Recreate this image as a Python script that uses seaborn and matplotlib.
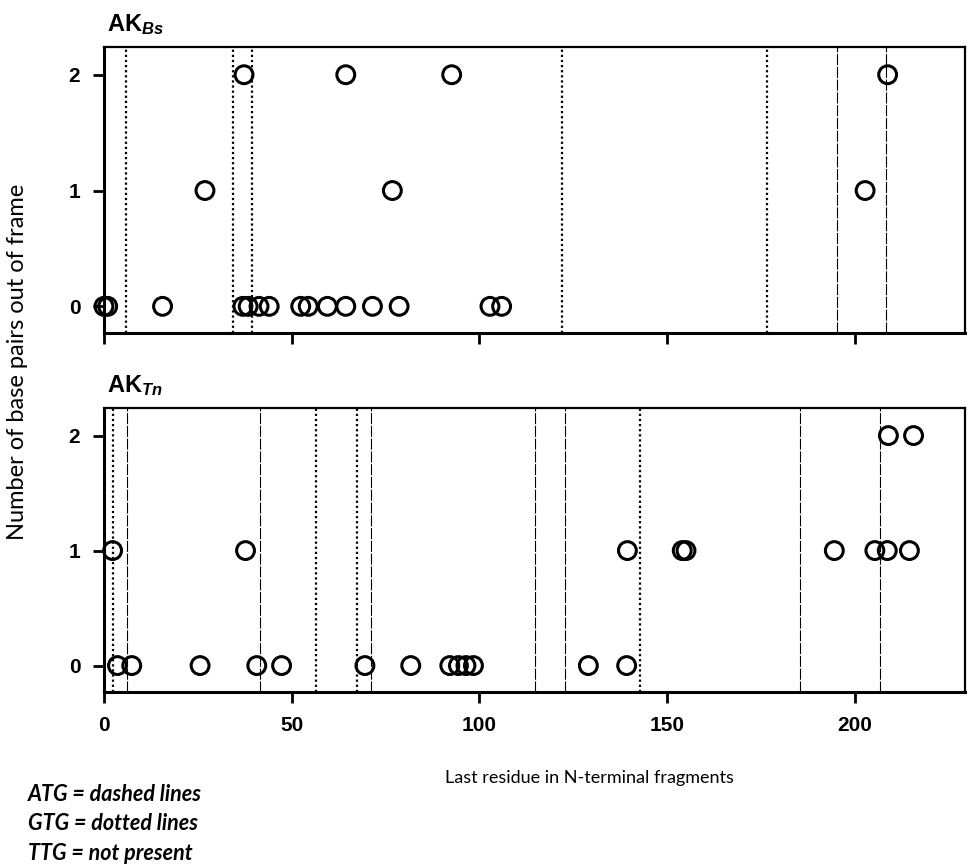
import matplotlib
matplotlib.use("Agg")
import matplotlib.pyplot as plt
import seaborn as sns

# AK_Bs panel: last residue (x) and base pairs out of frame (y)
bs_x = [0, 1, 15.6, 37, 38.4, 41.3, 44, 52.4, 54.4, 59.5, 64.4, 71.5, 78.6, 102.8, 105.9,
        26.9, 76.8, 202.7,
        37.3, 64.4, 92.6, 208.7]
bs_y = [0] * 15 + [1] * 3 + [2] * 4
bs_atg = [195.3, 208.2]
bs_gtg = [6.0, 34.4, 39.5, 121.9, 176.7]

# AK_Tn panel
tn_x = [3.6, 7.4, 25.6, 40.7, 47.3, 69.5, 81.7, 92.1, 94.4, 96.4, 98.4, 129.0, 139.2,
        2.3, 37.7, 139.4, 154.0, 155.0, 194.5, 205.3, 208.6, 214.5,
        208.9, 215.6]
tn_y = [0] * 13 + [1] * 9 + [2] * 2
tn_atg = [6.2, 41.5, 71.1, 114.7, 122.9, 185.4, 206.7]
tn_gtg = [2.3, 56.6, 67.5, 142.7]

xticks = [0, 50, 100, 150, 200]
yticks = [0, 1, 2]

sns.set_style("ticks")
plt.rcParams["text.color"] = "black"
plt.rcParams["axes.labelcolor"] = "black"
plt.rcParams["mathtext.fontset"] = "custom"
plt.rcParams["mathtext.bf"] = "Liberation Sans:bold"
plt.rcParams["mathtext.it"] = "Liberation Sans:bold:italic"
plt.rcParams["mathtext.rm"] = "Liberation Sans:bold"

fig = plt.figure(figsize=(9.68, 8.66), dpi=100)
ax1 = fig.add_axes([0.1074, 0.6155, 0.8895, 0.3303])
ax2 = fig.add_axes([0.1074, 0.2009, 0.8895, 0.3280])

panels = [(ax1, bs_x, bs_y, bs_atg, bs_gtg, r"$\mathbf{AK}_{\mathit{Bs}}$"),
          (ax2, tn_x, tn_y, tn_atg, tn_gtg, r"$\mathbf{AK}_{\mathit{Tn}}$")]

for ax, xs, ys, atg, gtg, name in panels:
    for v in atg:
        ax.axvline(v, color="black", lw=0.8, ls=(0, (10, 1.5)), zorder=1)
    for v in gtg:
        ax.axvline(v, color="black", lw=1.6, ls=(0, (1, 1.3)), zorder=1)
    sns.scatterplot(x=xs, y=ys, ax=ax, marker="o", s=165, facecolors="none",
                    edgecolor="black", linewidth=2.2, zorder=3, clip_on=False)
    ax.set_xlim(0, 229.3)
    ax.set_ylim(-0.23, 2.24)
    ax.set_xticks(xticks)
    ax.set_yticks(yticks)
    ax.tick_params(direction="out", length=8, width=2, colors="black", pad=9)
    for lab in ax.get_yticklabels() + ax.get_xticklabels():
        lab.set_fontfamily("Liberation Sans")
        lab.set_fontweight("bold")
        lab.set_fontsize(15)
    for side in ["left", "bottom"]:
        ax.spines[side].set_linewidth(2.2)
    for side in ["top", "right"]:
        ax.spines[side].set_linewidth(1.6)
    for sp in ax.spines.values():
        sp.set_color("black")
    ax.text(0.004, 1.035, name, transform=ax.transAxes, fontsize=17,
            ha="left", va="bottom", color="black")

ax1.set_xticklabels([])

fig.text(0.018, 0.582, "Number of base pairs out of frame", rotation=90,
         ha="center", va="center", fontsize=17, fontfamily="Lato", color="black")
fig.text(0.6085, 0.1016, "Last residue in N-terminal fragments",
         ha="center", va="center", fontsize=13, fontfamily="Lato", color="black")

legend_lines = ["ATG = dashed lines", "GTG = dotted lines", "TTG = not present"]
for i, t in enumerate(legend_lines):
    fig.text(0.029, 0.082 - i * 0.0335, t, ha="left", va="center", fontsize=15.5,
             fontfamily="Lato", fontstyle="italic", fontweight="bold", color="black")

fig.savefig("out.png", dpi=100)
